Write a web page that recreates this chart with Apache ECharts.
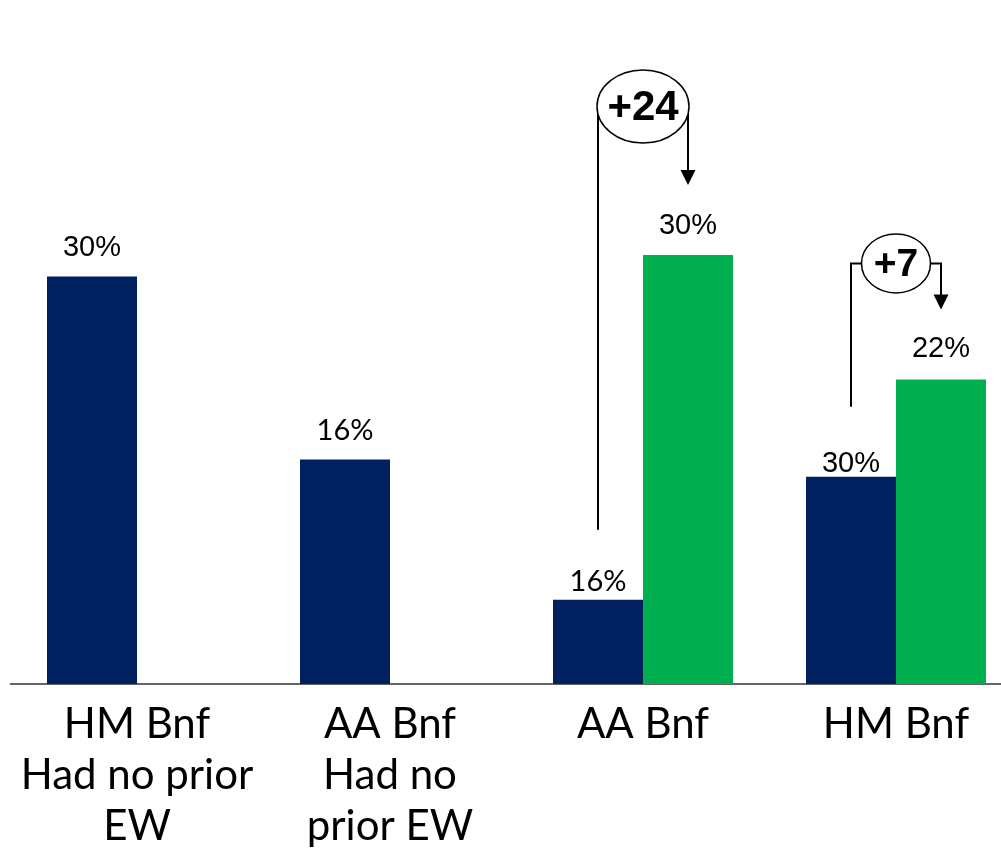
<!DOCTYPE html>
<html><head><meta charset="utf-8">
<script src="https://cdn.jsdelivr.net/npm/echarts@6/dist/echarts.min.js"></script>
<style>html,body{margin:0;padding:0;background:#fff}#c{width:1001px;height:850px}</style>
</head><body><div id="c"></div>
<script>
// ---- data ----
const categories = ['HM Bnf\nHad no prior\nEW', 'AA Bnf\nHad no\nprior EW', 'AA Bnf', 'HM Bnf'];
const navyValues = [28.5, 15.7, 5.9, 14.5];
const greenValues = [null, null, 30, 21.3];
const navyLabels = ['30%', '16%', '16%', '30%'];
const greenLabels = ['', '', '30%', '22%'];
const changeLabels = ['+24', '+7'];
const changeCategories = [2, 3];

// ---- styles ----
const NAVY = '#002060', GREEN = '#00B050';
const navyLabelGap = [14, 14, 3, -2];
const greenLabelGap = [15, 15, 15, 16];
const navyLabelFont = ['Liberation Sans', 'Lato', 'Lato', 'Liberation Sans'];
const greenLabelFont = ['Liberation Sans', 'Liberation Sans', 'Liberation Sans', 'Liberation Sans'];
const bubbleLift = [148.5, 116];
const bubbleRx = [46, 34.5];
const bubbleRy = [36.5, 29.5];
const bubbleFont = [42, 39];
const BAR_W = 90;

const chart = echarts.init(document.getElementById('c'), null, {renderer: 'canvas'});

function mkData(values, labels, gaps, fonts) {
  return values.map((v, i) => v == null ? null : ({
    value: v,
    label: { formatter: labels[i], distance: gaps[i], fontFamily: fonts[i] }
  }));
}

const option = {
  animation: false,
  grid: { left: 10.5, top: 112, width: 1012, height: 572, outerBoundsMode: 'none', containLabel: false },
  xAxis: {
    type: 'category',
    data: categories,
    axisTick: { show: false },
    axisLine: { lineStyle: { color: '#333', width: 1.5 } },
    axisLabel: { interval: 0, color: '#000', fontFamily: 'Lato', fontSize: 42, lineHeight: 51, margin: 15 }
  },
  yAxis: { type: 'value', min: 0, max: 40, show: false, splitLine: { show: false } },
  series: [
    {
      type: 'bar', barWidth: BAR_W, barGap: '0%',
      itemStyle: { color: NAVY },
      label: { show: true, position: 'top', color: '#000', fontSize: 29 },
      data: mkData(navyValues, navyLabels, navyLabelGap, navyLabelFont)
    },
    {
      type: 'bar', barWidth: BAR_W, barGap: '0%',
      itemStyle: { color: GREEN },
      label: { show: true, position: 'top', color: '#000', fontSize: 29 },
      data: mkData(greenValues, greenLabels, greenLabelGap, greenLabelFont)
    }
  ]
};
chart.setOption(option);

function px(cat, val) { return chart.convertToPixel({ xAxisIndex: 0, yAxisIndex: 0 }, [cat, val]); }

const graphics = [];
changeCategories.forEach((cat, i) => {
  const cx = px(cat, 0)[0];
  const navyX = cx - BAR_W / 2, greenX = cx + BAR_W / 2;
  const navyTop = px(cat, navyValues[cat])[1];
  const greenTop = px(cat, greenValues[cat])[1];
  const cy = greenTop - bubbleLift[i];
  const rx = bubbleRx[i], ry = bubbleRy[i];
  const tip = greenTop - 70;
  const lineStyle = { stroke: '#000', lineWidth: 2, fill: null };
  graphics.push({ type: 'polyline', z: 100, shape: { points: [[navyX, navyTop - 70], [navyX, cy], [cx - rx, cy]] }, style: lineStyle });
  graphics.push({ type: 'polyline', z: 100, shape: { points: [[cx + rx, cy], [greenX, cy], [greenX, tip - 13]] }, style: lineStyle });
  graphics.push({ type: 'polygon', z: 100, shape: { points: [[greenX - 7.5, tip - 15], [greenX + 7.5, tip - 15], [greenX, tip]] }, style: { fill: '#000' } });
  graphics.push({ type: 'ellipse', z: 101, shape: { cx: cx, cy: cy, rx: rx, ry: ry }, style: { fill: '#fff', stroke: '#000', lineWidth: 1.5 } });
  graphics.push({ type: 'text', z: 102, x: cx, y: cy + 1.5,
    style: { text: changeLabels[i], fill: '#000', fontFamily: 'Liberation Sans', fontWeight: 'bold', fontSize: bubbleFont[i],
      textAlign: 'center', textVerticalAlign: 'middle', align: 'center', verticalAlign: 'middle' } });
});
chart.setOption({ graphic: graphics });
</script>
</body></html>
